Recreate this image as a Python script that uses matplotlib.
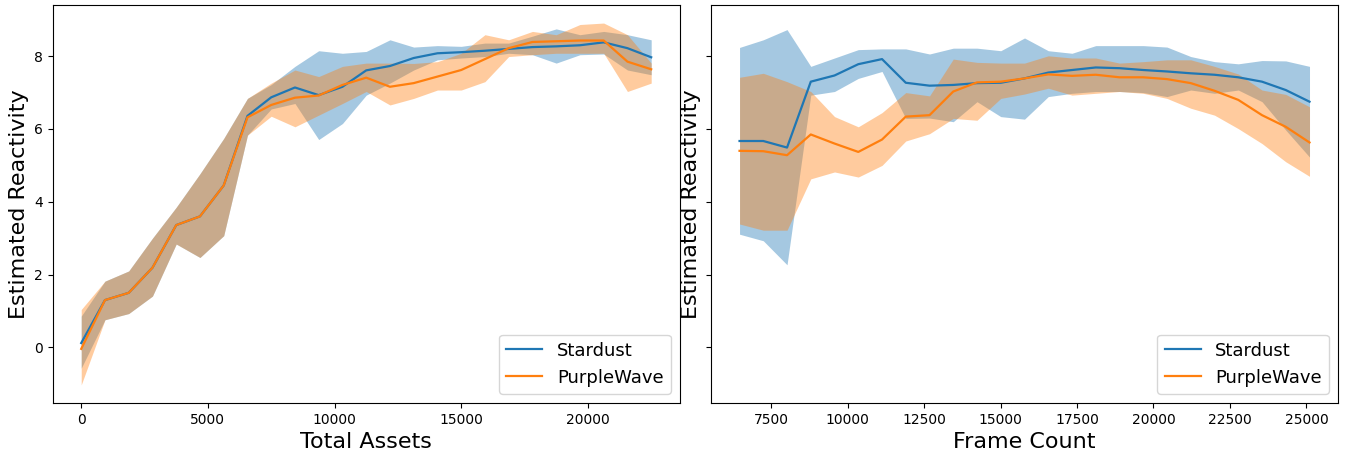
import numpy as np
import matplotlib
matplotlib.use("Agg")
from matplotlib import pyplot as plt

# left panel: reactivity vs total assets
assets = np.arange(25) * 937.5
star_a = [0.12, 1.30, 1.50, 2.19, 3.36, 3.60, 4.45, 6.36, 6.87, 7.14, 6.93, 7.16, 7.61,
          7.73, 7.95, 8.08, 8.11, 8.15, 8.20, 8.25, 8.27, 8.30, 8.38, 8.22, 7.97]
star_a_lo = [-0.57, 0.76, 0.93, 1.41, 2.84, 2.47, 3.07, 5.83, 6.55, 6.70, 5.71, 6.15, 6.93,
             7.26, 7.62, 7.90, 7.95, 7.99, 8.08, 8.04, 7.81, 8.04, 8.06, 7.62, 7.49]
star_a_hi = [0.86, 1.82, 2.10, 3.00, 3.85, 4.77, 5.74, 6.84, 7.22, 7.72, 8.15, 8.08, 8.13,
             8.45, 8.25, 8.29, 8.27, 8.36, 8.36, 8.55, 8.75, 8.59, 8.68, 8.59, 8.45]
wave_a = [-0.04, 1.30, 1.50, 2.19, 3.36, 3.60, 4.45, 6.32, 6.66, 6.86, 6.92, 7.21, 7.41,
          7.16, 7.26, 7.44, 7.62, 7.92, 8.22, 8.39, 8.41, 8.43, 8.43, 7.85, 7.64]
wave_a_lo = [-1.03, 0.76, 0.93, 1.41, 2.84, 2.47, 3.07, 5.83, 6.35, 6.06, 6.38, 6.70, 7.03,
             6.66, 6.84, 7.07, 7.07, 7.30, 7.99, 8.04, 8.08, 8.08, 8.08, 7.03, 7.26]
wave_a_hi = [1.04, 1.82, 2.10, 3.00, 3.85, 4.77, 5.74, 6.84, 7.26, 7.62, 7.44, 7.72, 7.81,
             7.81, 7.80, 7.85, 8.08, 8.59, 8.45, 8.68, 8.59, 8.87, 8.91, 8.59, 7.81]

# right panel: reactivity vs frame count
frames = 6470 + np.arange(25) * 776.25
star_f = [5.67, 5.67, 5.49, 7.30, 7.47, 7.78, 7.92, 7.27, 7.19, 7.21, 7.26, 7.27, 7.39,
          7.55, 7.62, 7.69, 7.67, 7.62, 7.58, 7.53, 7.49, 7.42, 7.30, 7.07, 6.75]
star_f_lo = [3.11, 2.93, 2.27, 6.93, 7.03, 7.39, 7.58, 6.29, 6.30, 6.20, 6.75, 6.34, 6.27,
             6.89, 6.98, 7.03, 7.03, 7.00, 6.89, 7.07, 6.98, 7.07, 6.75, 5.97, 5.23]
star_f_hi = [8.24, 8.45, 8.73, 7.72, 7.95, 8.18, 8.20, 8.20, 8.06, 8.22, 8.22, 8.15, 8.50,
             8.15, 8.08, 8.29, 8.29, 8.29, 8.25, 7.99, 7.85, 7.79, 7.88, 7.87, 7.72]
wave_f = [5.40, 5.39, 5.28, 5.85, 5.60, 5.37, 5.71, 6.34, 6.38, 7.03, 7.28, 7.30, 7.39,
          7.50, 7.46, 7.49, 7.42, 7.42, 7.37, 7.26, 7.05, 6.80, 6.38, 6.06, 5.63]
wave_f_lo = [3.39, 3.22, 3.22, 4.63, 4.82, 4.68, 5.00, 5.67, 5.87, 6.29, 6.24, 6.84, 6.96,
             7.12, 6.93, 6.98, 7.03, 6.98, 6.84, 6.57, 6.38, 6.01, 5.60, 5.10, 4.70]
wave_f_hi = [7.42, 7.53, 7.30, 7.03, 6.34, 6.06, 6.45, 7.00, 6.91, 7.92, 7.83, 7.81, 7.81,
             8.01, 7.95, 7.95, 7.81, 7.85, 7.90, 7.90, 7.72, 7.51, 7.07, 6.95, 6.61]

fig, (ax1, ax2) = plt.subplots(1, 2, figsize=(13.45, 4.51), dpi=100, sharey=True)
fig.subplots_adjust(left=0.0392, right=0.9948, bottom=0.1064, top=0.989, wspace=0.05)


def draw(ax, x, s, s_lo, s_hi, w, w_lo, w_hi, xlabel):
    ax.fill_between(x, s_lo, s_hi, color="tab:blue", alpha=0.4, linewidth=0)
    ax.fill_between(x, w_lo, w_hi, color="tab:orange", alpha=0.4, linewidth=0)
    ax.plot(x, s, color="tab:blue", lw=1.6, label="Stardust")
    ax.plot(x, w, color="tab:orange", lw=1.6, label="PurpleWave")
    ax.set_xlabel(xlabel, fontsize=16)
    ax.legend(loc="lower right", fontsize=13)


draw(ax1, assets, star_a, star_a_lo, star_a_hi, wave_a, wave_a_lo, wave_a_hi, "Total Assets")
draw(ax2, frames, star_f, star_f_lo, star_f_hi, wave_f, wave_f_lo, wave_f_hi, "Frame Count")
ax1.set_ylabel("Estimated Reactivity", fontsize=16)
ax2.set_ylabel("Estimated Reactivity", fontsize=16)
ax2.tick_params(labelleft=False)
ax1.set_yticks([0, 2, 4, 6, 8])

plt.savefig("out.png", dpi=100)
